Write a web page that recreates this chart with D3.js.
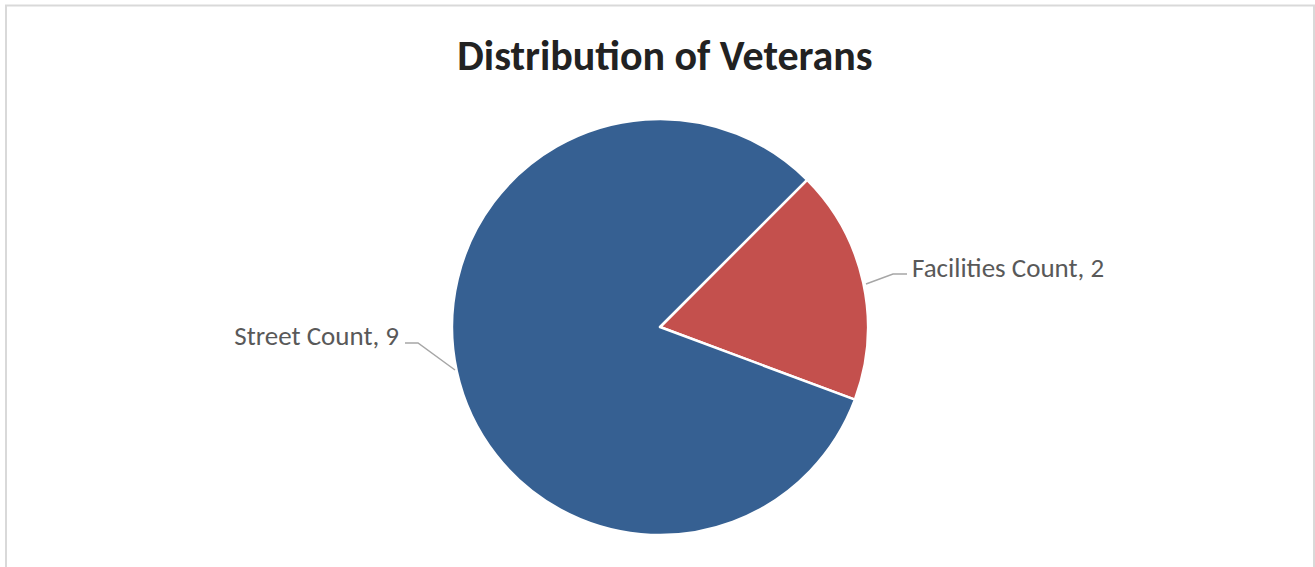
<!DOCTYPE html>
<html>
<head>
<meta charset="utf-8">
<script src="https://cdn.jsdelivr.net/npm/d3@7"></script>
<style>
  html, body { margin: 0; padding: 0; background: #fff; }
  svg { display: block; }
  text { font-family: Carlito, Calibri, "Liberation Sans", "DejaVu Sans", sans-serif; }
</style>
</head>
<body>
<svg id="chart" width="1315" height="567"></svg>
<script>
// Veteran counts by location
const categories = ["Facilities Count", "Street Count"];
const values = [2, 9];
const sliceColors = ["#C4504D", "#366092"];
const chartTitle = "Distribution of Veterans";

const W = 1315, H = 567;
const svg = d3.select("#chart");

// chart frame
svg.append("rect")
  .attr("x", 6).attr("y", 5.5)
  .attr("width", 1308).attr("height", 600)
  .attr("fill", "#fff")
  .attr("stroke", "#d9d9d9").attr("stroke-width", 2);

// title
svg.append("text")
  .attr("x", 665).attr("y", 70)
  .attr("text-anchor", "middle")
  .attr("font-size", 42).attr("font-weight", "bold")
  .attr("fill", "#222")
  .text(chartTitle);

const cx = 660, cy = 327, r = 208;
const data = categories.map((c, i) => ({ name: c, value: values[i], color: sliceColors[i] }));

const pie = d3.pie()
  .value(d => d.value)
  .sort(null)
  .startAngle(45 * Math.PI / 180)
  .endAngle(45 * Math.PI / 180 + 2 * Math.PI);

const arc = d3.arc().innerRadius(0).outerRadius(r);
const arcs = pie(data);

const g = svg.append("g").attr("transform", `translate(${cx},${cy})`);
g.selectAll("path.slice")
  .data(arcs)
  .join("path")
  .attr("class", "slice")
  .attr("d", arc)
  .attr("fill", d => d.data.color)
  .attr("stroke", "#fff")
  .attr("stroke-width", 2.5)
  .attr("stroke-linejoin", "round");

// data labels with leader lines
const labelLayout = {
  "Facilities Count": { pts: [[866, 284], [893, 274], [907, 274]], tx: 912, ty: 277, anchor: "start" },
  "Street Count": { pts: [[455, 370], [418, 343], [405, 343]], tx: 399, ty: 345, anchor: "end" }
};

arcs.forEach(a => {
  const L = labelLayout[a.data.name];
  svg.append("path")
    .attr("d", d3.line()(L.pts))
    .attr("fill", "none")
    .attr("stroke", "#a6a6a6")
    .attr("stroke-width", 1.5);
  svg.append("text")
    .attr("x", L.tx).attr("y", L.ty)
    .attr("text-anchor", L.anchor)
    .attr("font-size", 27)
    .attr("fill", "#595959")
    .text(`${a.data.name}, ${a.data.value}`);
});
</script>
</body>
</html>
